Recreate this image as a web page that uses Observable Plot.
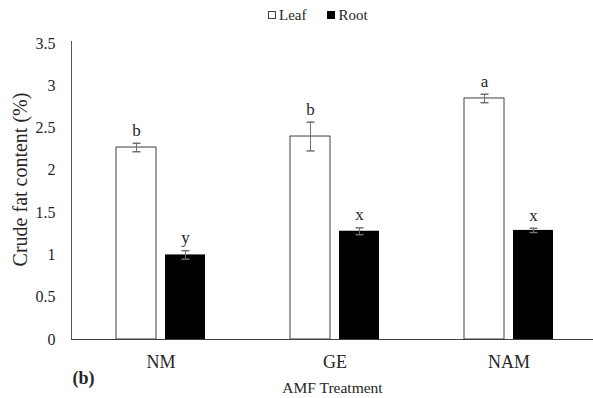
<!DOCTYPE html>
<html><head><meta charset="utf-8">
<script src="https://cdn.jsdelivr.net/npm/d3@7"></script>
<script src="https://cdn.jsdelivr.net/npm/@observablehq/plot@0.6"></script>
<style>
body{margin:0;background:#fff;}
#wrap{position:relative;width:593px;height:398px;font-family:"Liberation Serif",serif;color:#262626;}
#legend{position:absolute;top:5px;left:268px;font-size:15px;line-height:18px;white-space:nowrap;}
#legend .item{display:inline-flex;align-items:center;}
#legend .sw{display:inline-block;width:8px;height:8px;box-sizing:border-box;margin-right:3px;}
#chart{position:absolute;top:0;left:0;}
#chart svg text{font-family:"Liberation Serif",serif;}
</style></head><body>
<div id="wrap"><div id="chart"></div><div id="legend"></div></div>
<script>
const treatments = ["NM", "GE", "NAM"];
const series = ["Leaf", "Root"];
const leafValues = [2.27, 2.40, 2.85];
const leafErrors = [0.05, 0.17, 0.05];
const leafLetters = ["b", "b", "a"];
const rootValues = [1.00, 1.28, 1.29];
const rootErrors = [0.05, 0.04, 0.025];
const rootLetters = ["y", "x", "x"];
const yTicks = [0, 0.5, 1, 1.5, 2, 2.5, 3, 3.5];
const yTitle = "Crude fat content (%)";
const xTitle = "AMF Treatment";
const panelTag = "(b)";

const leaf = treatments.map((t, i) => ({treatment: t, value: leafValues[i], err: leafErrors[i], letter: leafLetters[i]}));
const root = treatments.map((t, i) => ({treatment: t, value: rootValues[i], err: rootErrors[i], letter: rootLetters[i]}));
const caps = rows => rows.flatMap(d => [{treatment: d.treatment, y: d.value - d.err}, {treatment: d.treatment, y: d.value + d.err}]);
const capSymbol = {draw(ctx) { ctx.moveTo(-4, 0); ctx.lineTo(4, 0); }};
const errColor = "#707070";
const off = 24.5;
const serif = "'Liberation Serif', serif";

const plot = Plot.plot({
  width: 593, height: 398,
  marginLeft: 71, marginRight: 0, marginTop: 41, marginBottom: 59,
  style: {fontFamily: serif, color: "#262626", background: "transparent", overflow: "visible"},
  x: {domain: treatments, range: [72, 596.25], paddingInner: 0.49, paddingOuter: 0.245, label: null},
  y: {domain: [0, 3.5], range: [339, 43], label: null},
  marks: [
    Plot.frame({anchor: "left", stroke: "#595959"}),
    Plot.barY(leaf, {x: "treatment", y: "value", fill: "white", stroke: "#404040", strokeWidth: 1, insetRight: 49}),
    Plot.barY(root, {x: "treatment", y: "value", fill: "black", insetLeft: 49}),
    Plot.ruleY([0], {stroke: "#404040"}),
    Plot.ruleX(leaf, {x: "treatment", y1: d => d.value - d.err, y2: d => d.value + d.err, dx: -off, stroke: errColor}),
    Plot.ruleX(root, {x: "treatment", y1: d => d.value - d.err, y2: d => d.value + d.err, dx: off, stroke: errColor}),
    Plot.dot(caps(leaf), {x: "treatment", y: "y", dx: -off, symbol: capSymbol, stroke: errColor, fill: "none", r: 4}),
    Plot.dot(caps(root), {x: "treatment", y: "y", dx: off, symbol: capSymbol, stroke: errColor, fill: "none", r: 4}),
    Plot.text(leaf, {x: "treatment", y: d => d.value + d.err, text: "letter", dx: -off, dy: -13, lineAnchor: "middle", fontSize: 17, fill: "#262626"}),
    Plot.text(root, {x: "treatment", y: d => d.value + d.err, text: "letter", dx: off, dy: -13, lineAnchor: "middle", fontSize: 17, fill: "#262626"}),
    Plot.axisY({ticks: yTicks, tickSize: 0, tickPadding: 16, fontSize: 16, fontFamily: serif, tickFormat: d => String(d), label: null}),
    Plot.axisX({tickSize: 0, tickPadding: 16, fontSize: 18, fontFamily: serif, label: null}),
    Plot.text([yTitle], {frameAnchor: "left", rotate: -90, dx: -51, dy: -11, fontSize: 20, textAnchor: "middle", fill: "#262626"}),
    Plot.text([xTitle], {frameAnchor: "bottom", dy: 49, fontSize: 15.5, lineAnchor: "middle", fill: "#262626"}),
    Plot.text([panelTag], {frameAnchor: "bottom-left", textAnchor: "start", dx: 1, dy: 39, fontSize: 18, fontWeight: "bold", lineAnchor: "middle", fill: "#262626"})
  ]
});
document.getElementById("chart").appendChild(plot);

const legend = document.getElementById("legend");
const swatchStyle = {Leaf: "border:1px solid #404040;background:#fff;", Root: "background:#000;"};
series.forEach((s, i) => {
  const item = document.createElement("span");
  item.className = "item";
  if (i > 0) item.style.marginLeft = "21px";
  item.innerHTML = `<span class="sw" style="${swatchStyle[s]}"></span>${s}`;
  legend.appendChild(item);
});
</script>
</body></html>
